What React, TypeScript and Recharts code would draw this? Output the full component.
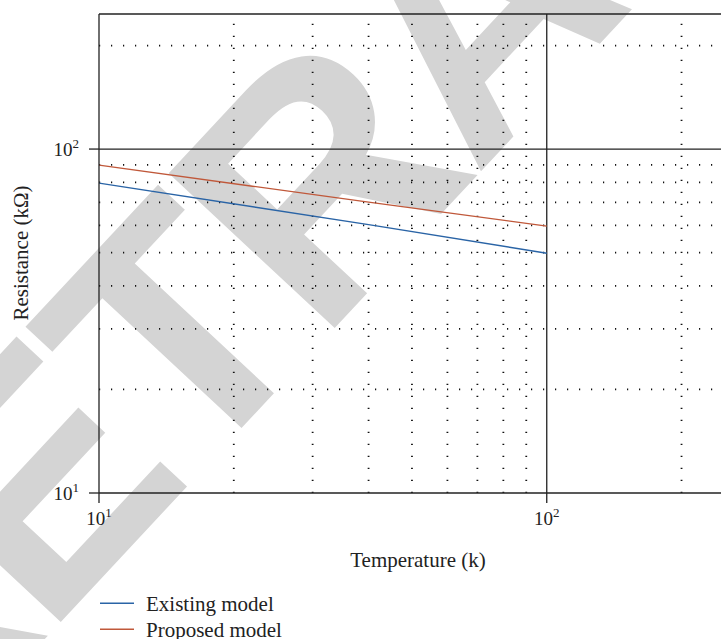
import { LineChart, Line, XAxis, YAxis, ReferenceLine } from "recharts";

// readings from the figure (log-log, straight lines)
const temperature = [10, 40, 100];
const existingModel = [79.6, 60.3, 49.8];
const proposedModel = [89.8, 70.1, 59.7];

const seriesNames = ["Existing model", "Proposed model"];
const seriesColors = ["#2a64a6", "#c0583a"];

const majorTicks = [10, 100];
const minorX = [20, 30, 40, 50, 60, 70, 80, 90, 200];
const minorY = [20, 30, 40, 50, 60, 70, 80, 90, 200];

const xDomain = [10, 245];
const yDomain = [10, 247];

const data = temperature.map((t, i) => ({
  t,
  existing: existingModel[i],
  proposed: proposedModel[i],
}));

const FONT = "'Liberation Serif', 'Times New Roman', serif";

function PowerTick(props: any) {
  const { x, y, payload, axis } = props;
  const exp = Math.round(Math.log10(payload.value));
  const isY = axis === "y";
  return (
    <text
      x={x}
      y={isY ? y + 6.5 : y + 22}
      textAnchor={isY ? "end" : "middle"}
      fontFamily={FONT}
      fontSize={19}
      fill="#222"
    >
      <tspan>10</tspan>
      <tspan dy={-8} fontSize={13}>
        {exp}
      </tspan>
    </text>
  );
}

const dotted = { stroke: "#111", strokeWidth: 1.8, strokeDasharray: "1.2 10.8" };

export default function App() {
  return (
    <div
      style={{
        position: "fixed",
        left: 0,
        top: 0,
        width: 721,
        height: 639,
        overflow: "hidden",
        background: "#fff",
      }}
    >
      {/* watermark behind the chart */}
      <svg width={721} height={639} style={{ position: "absolute", left: 0, top: 0 }}>
        <text
          x={-110}
          y={805}
          transform="rotate(-47, -110, 805)"
          fontFamily="'Liberation Sans', Arial, sans-serif"
          fontWeight="bold"
          fontSize={330}
          letterSpacing={-10}
          fill="#d4d4d4"
        >
          RETRACTED
        </text>
      </svg>

      <div style={{ position: "absolute", left: 0, top: 0 }}>
        <LineChart
          width={721}
          height={639}
          data={data}
          margin={{ top: 14, right: 0, bottom: 106, left: 0 }}
        >
          {minorX.map((v) => (
            <ReferenceLine key={"vx" + v} x={v} {...dotted} />
          ))}
          {minorY.map((v) => (
            <ReferenceLine key={"hy" + v} y={v} {...dotted} />
          ))}
          <ReferenceLine x={100} stroke="#222" strokeWidth={1.3} />
          <ReferenceLine y={100} stroke="#222" strokeWidth={1.3} />
          <ReferenceLine y={yDomain[1]} stroke="#222" strokeWidth={1.3} ifOverflow="visible" />

          <XAxis
            dataKey="t"
            type="number"
            scale="log"
            domain={xDomain}
            ticks={majorTicks}
            allowDataOverflow
            height={40}
            tickSize={10}
            tickMargin={0}
            axisLine={{ stroke: "#222", strokeWidth: 1.3 }}
            tickLine={{ stroke: "#222", strokeWidth: 1.3 }}
            tick={<PowerTick axis="x" />}
          />
          <YAxis
            type="number"
            scale="log"
            domain={yDomain}
            ticks={majorTicks}
            allowDataOverflow
            width={99}
            tickSize={10}
            tickMargin={10}
            axisLine={{ stroke: "#222", strokeWidth: 1.3 }}
            tickLine={{ stroke: "#222", strokeWidth: 1.3 }}
            tick={<PowerTick axis="y" />}
          />

          <Line
            type="linear"
            dataKey="existing"
            name={seriesNames[0]}
            stroke={seriesColors[0]}
            strokeWidth={1.4}
            dot={false}
            isAnimationActive={false}
          />
          <Line
            type="linear"
            dataKey="proposed"
            name={seriesNames[1]}
            stroke={seriesColors[1]}
            strokeWidth={1.4}
            dot={false}
            isAnimationActive={false}
          />
        </LineChart>
      </div>

      {/* axis titles and legend */}
      <svg
        width={721}
        height={639}
        style={{ position: "absolute", left: 0, top: 0, pointerEvents: "none" }}
        fontFamily={FONT}
        fill="#222"
      >
        <text x={418} y={567} textAnchor="middle" fontSize={21}>
          Temperature (k)
        </text>
        <text
          x={27.5}
          y={253}
          textAnchor="middle"
          fontSize={21}
          transform="rotate(-90, 27.5, 253)"
        >
          Resistance (kΩ)
        </text>
        {seriesNames.map((name, i) => (
          <g key={name}>
            <line
              x1={100}
              x2={134}
              y1={603.3 + i * 26}
              y2={603.3 + i * 26}
              stroke={seriesColors[i]}
              strokeWidth={1.4}
            />
            <text x={146} y={610.7 + i * 26} fontSize={21}>
              {name}
            </text>
          </g>
        ))}
      </svg>
    </div>
  );
}
